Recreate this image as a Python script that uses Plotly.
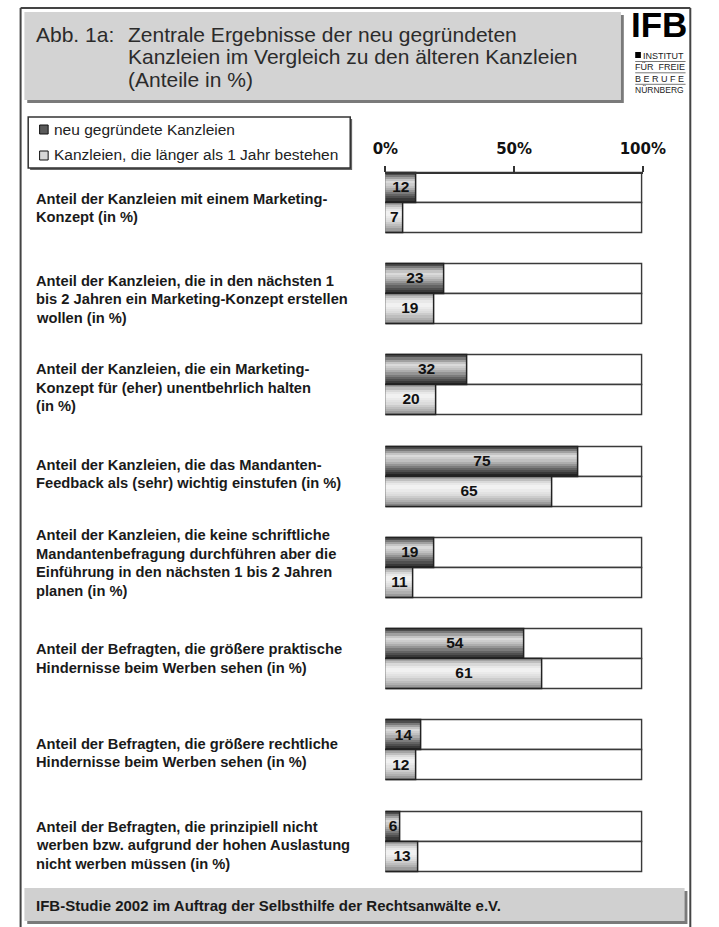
import plotly.graph_objects as go
from plotly.colors import sample_colorscale

# ---------------- data ----------------
label_lines = [
    ["Anteil der Kanzleien mit einem Marketing-", "Konzept (in %)"],
    ["Anteil der Kanzleien, die in den nächsten 1", "bis 2 Jahren ein Marketing-Konzept erstellen", "wollen (in %)"],
    ["Anteil der Kanzleien, die ein Marketing-", "Konzept für (eher) unentbehrlich halten", "(in %)"],
    ["Anteil der Kanzleien, die das Mandanten-", "Feedback als (sehr) wichtig einstufen (in %)"],
    ["Anteil der Kanzleien, die keine schriftliche", "Mandantenbefragung durchführen aber die",
     "Einführung in den nächsten 1 bis 2 Jahren", "planen (in %)"],
    ["Anteil der Befragten, die größere praktische", "Hindernisse beim Werben sehen (in %)"],
    ["Anteil der Befragten, die größere rechtliche", "Hindernisse beim Werben sehen (in %)"],
    ["Anteil der Befragten, die prinzipiell nicht", "werben bzw. aufgrund der hohen Auslastung",
     "nicht werben müssen (in %)"],
]
new_vals = [12, 23, 32, 75, 19, 54, 14, 6]
old_vals = [7, 19, 20, 65, 11, 61, 12, 13]
series_names = ["neu gegründete Kanzleien", "Kanzleien, die länger als 1 Jahr bestehen"]
tick_vals = [0, 50, 100]
tick_labels = ["0%", "50%", "100%"]
title_lines = ["Zentrale Ergebnisse der neu gegründeten",
               "Kanzleien im Vergleich zu den älteren Kanzleien",
               "(Anteile in %)"]
title_prefix = "Abb. 1a:"
footer_text = "IFB-Studie 2002 im Auftrag der Selbsthilfe der Rechtsanwälte e.V."

# ---------------- layout helpers ----------------
W, H = 719, 927
def px(x):
    return x / W
def py(y):
    return 1 - y / H

UNIT = 91.3          # pixels per category step
TOP_CENTER = 203     # pixel y of first group centre
BAR_PX = 30
bw = BAR_PX / UNIT   # bar thickness in axis units
n = len(new_vals)
idx = list(range(n))
label_shift_px = [5, 5, 2, -3, -5, -1, 2, 3]   # fine vertical placement of the row labels

y_top_px = TOP_CENTER - UNIT / 2
y_bot_px = TOP_CENTER + UNIT * (n - 0.5)

grad_new = [[0, "rgb(55,55,55)"], [0.12, "rgb(130,130,130)"], [0.3, "rgb(222,222,222)"],
            [0.5, "rgb(185,185,185)"], [0.75, "rgb(100,100,100)"], [1, "rgb(25,25,25)"]]
grad_old = [[0, "rgb(150,150,150)"], [0.2, "rgb(225,225,225)"], [0.35, "rgb(245,245,245)"],
            [0.6, "rgb(220,220,220)"], [0.85, "rgb(170,170,170)"], [1, "rgb(120,120,120)"]]

fig = go.Figure()

series = [(new_vals, -bw, grad_new), (old_vals, 0.0, grad_old)]

# white 0-100% background boxes
for vals, off, _ in series:
    fig.add_trace(go.Bar(
        y=idx, x=[100] * n, orientation="h", width=bw, offset=off,
        marker=dict(color="white", line=dict(color="#3a3a3a", width=1.5)),
        showlegend=False, hoverinfo="skip"))

# gradient value bars (horizontal strips)
NS = 14
for vals, off, grad in series:
    cols = sample_colorscale(grad, [(k + 0.5) / NS for k in range(NS)])
    for k in range(NS):
        fig.add_trace(go.Bar(
            y=idx, x=vals, orientation="h", width=bw / NS * 1.02, offset=off + k * bw / NS,
            marker=dict(color=cols[k], line=dict(width=0)),
            showlegend=False, hoverinfo="skip"))
    fig.add_trace(go.Bar(
        y=idx, x=vals, orientation="h", width=bw, offset=off,
        marker=dict(color="rgba(0,0,0,0)", line=dict(color="#222", width=1.5)),
        showlegend=False, hoverinfo="skip"))
    fig.add_trace(go.Scatter(
        y=[i + off + bw / 2 for i in idx], x=[v / 2 for v in vals], mode="text",
        text=[f"<b>{v}</b>" for v in vals],
        textfont=dict(family="Liberation Sans, Arial", size=15.5, color="#111"),
        showlegend=False, hoverinfo="skip", cliponaxis=False))

shapes = []
annotations = []

def rect(x0, y0, x1, y1, fill, line_color=None, lw=0, layer="below"):
    shapes.append(dict(type="rect", xref="paper", yref="paper",
                       x0=px(x0), x1=px(x1), y0=py(y1), y1=py(y0),
                       fillcolor=fill, layer=layer,
                       line=dict(color=line_color or fill, width=lw)))

def line(x0, y0, x1, y1, color="#333", lw=1, layer="above"):
    shapes.append(dict(type="line", xref="paper", yref="paper",
                       x0=px(x0), x1=px(x1), y0=py(y0), y1=py(y1), layer=layer,
                       line=dict(color=color, width=lw)))

def text(x, y, s, size, color="#111", anchor="left", family="Liberation Sans, Arial", yanchor="middle"):
    annotations.append(dict(xref="paper", yref="paper", x=px(x), y=py(y), text=s,
                            showarrow=False, xanchor=anchor, yanchor=yanchor,
                            font=dict(family=family, size=size, color=color)))

# outer frame
line(8, 8, 713, 8, "#444", 2)
line(8, 8, 8, 927, "#444", 2)
line(713, 8, 713, 927, "#444", 2)

# title box with shadow
rect(15, 15, 643, 103, "#7a7a7a")
rect(12, 12, 640, 100, "#d3d3d3")
text(22, 34, title_prefix, 21, "#2b2b2b")
for k, t in enumerate(title_lines):
    text(119, 34 + k * 22.5, t, 21, "#2b2b2b")

# logo
NARROW = "Liberation Sans Narrow, Liberation Sans, Arial"
text(680, 24, "<b>IFB</b>", 35, "#000", anchor="center")
rect(655, 52, 661, 58, "#000")
text(708, 55.5, "INSTITUT", 9, "#222", anchor="right", family=NARROW)
line(655, 61.5, 708, 61.5, "#555", 0.8)
text(681, 67, "FÜR  FREIE", 9, "#222", anchor="center", family=NARROW)
line(655, 72.8, 708, 72.8, "#555", 0.8)
text(681, 78.5, "B E R U F E", 9, "#222", anchor="center", family=NARROW)
line(655, 84.3, 708, 84.3, "#555", 0.8)
text(681, 90, "NÜRNBERG", 8.5, "#222", anchor="center", family=NARROW)

# legend box
rect(18, 119, 357, 170, "#666")
rect(16, 117, 355, 168, "white", "#333", 1.5)
rect(28, 125, 37, 134, "#5a5a5a", "#111", 1, layer="above")
rect(28, 151, 37, 160, "#d8d8d8", "#111", 1, layer="above")
text(41, 129, series_names[0], 15.5, "#222")
text(41, 155, series_names[1], 15.5, "#222")

# category labels
LINE_PX = 18.5
for i, lines_ in enumerate(label_lines):
    m = len(lines_)
    for k, t in enumerate(lines_):
        annotations.append(dict(xref="paper", yref="y", x=px(22), y=i,
                                yshift=-(k - (m - 1) / 2) * LINE_PX - label_shift_px[i],
                                text=f"<b>{t}</b>", showarrow=False,
                                xanchor="left", yanchor="middle",
                                font=dict(family="Liberation Sans, Arial", size=14.7, color="#1a1a1a")))

# footer box
rect(15, 891, 710, 924, "#7a7a7a")
rect(12, 888, 707, 921, "#d0d0d0")
text(22, 905, f"<b>{footer_text}</b>", 15, "#1a1a1a")

fig.update_layout(
    width=W, height=H, margin=dict(l=0, r=0, t=0, b=0),
    paper_bgcolor="white", plot_bgcolor="rgba(0,0,0,0)",
    barmode="overlay", bargap=0, showlegend=False,
    shapes=shapes, annotations=annotations,
    xaxis=dict(domain=[px(392), px(663)], range=[0, 100], side="top", anchor="free",
               position=py(173), showline=True, linecolor="#333", linewidth=1.5,
               ticks="outside", ticklen=6, tickwidth=1.5, tickcolor="#333",
               tickvals=tick_vals, ticktext=[f"<b>{t}</b>" for t in tick_labels],
               tickfont=dict(family="DejaVu Sans", size=15, color="#111"),
               ticklabelstandoff=6,
               showgrid=False, zeroline=False, fixedrange=True),
    yaxis=dict(domain=[py(y_bot_px), py(y_top_px)], range=[n - 0.5, -0.5],
               visible=False, fixedrange=True),
)

fig.write_html("out.html")
